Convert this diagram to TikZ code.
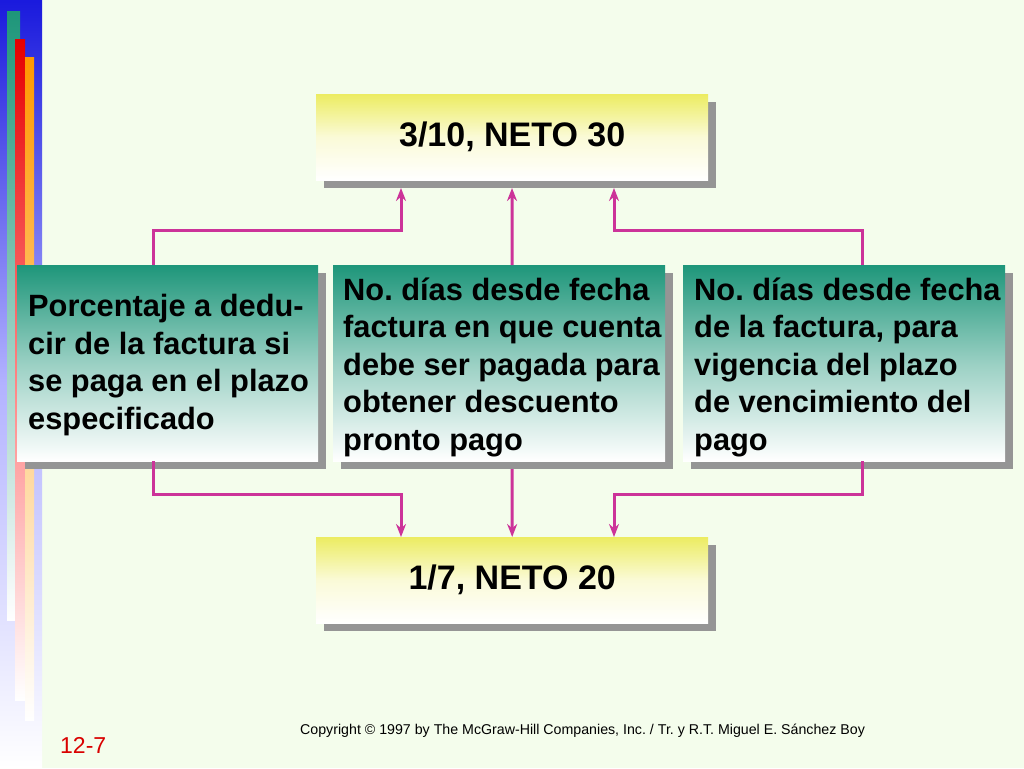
\documentclass[tikz,border=0pt]{standalone}
\usepackage{fontspec}
\setmainfont{Liberation Sans}
\frenchspacing
\usetikzlibrary{arrows.meta,shadows}
\definecolor{bg}{HTML}{F4FDEC}
\definecolor{teal}{HTML}{1E967A}
\definecolor{yel}{HTML}{ECEC62}
\definecolor{mag}{HTML}{CC3399}
\definecolor{shd}{HTML}{959595}
\begin{document}
\begin{tikzpicture}[x=1pt,y=-1pt,
  box/.style={draw=none,inner sep=0pt,anchor=north west,
    drop shadow={shadow xshift=8pt,shadow yshift=-8pt,fill=shd,opacity=1}},
  ybox/.style={box,top color=yel,bottom color=white,middle color=yel!25!white},
  gbox/.style={box,top color=teal,bottom color=white,middle color=teal!45!white},
  btxt/.style={font=\bfseries\fontsize{30.8}{37.5}\selectfont,align=left,anchor=west,inner sep=0pt},
  ttxt/.style={font=\bfseries\fontsize{34}{40}\selectfont,inner sep=0pt},
  conn/.style={draw=mag,line width=3pt,-{Stealth[length=13pt,width=10pt]}}]
\useasboundingbox (0,0) rectangle (1024,768);
\fill[bg] (0,0) rectangle (1024,768);
% left strip
\shade[top color=blue!85!black!90,bottom color=white,middle color=blue!30!white] (0,0) rectangle (42,768);
\shade[top color=teal,bottom color=white] (7,12) rectangle (20,620);
\shade[top color=red!90!black,bottom color=white,middle color=red!50!white] (15,40) rectangle (25,700);
\shade[top color=orange!80!yellow,bottom color=white] (25,58) rectangle (34,720);
% boxes
\node[ybox,minimum width=392pt,minimum height=86pt] (top) at (316,94) {};
\node[ttxt] (toptxt) at (top.center) {3/10, NETO 30};
\node[ybox,minimum width=392pt,minimum height=86pt] (bot) at (316,537) {};
\node[ttxt] (bottxt) at (bot.center) {1/7, NETO 20};
\node[gbox,minimum width=301pt,minimum height=196pt] (gl) at (17,265) {};
\node[gbox,minimum width=332pt,minimum height=196pt] (gm) at (333,265) {};
\node[gbox,minimum width=322pt,minimum height=196pt] (gr) at (683,265) {};
\node[btxt] (tl) at (28,365) {Porcentaje a dedu-\\cir de la factura si\\se paga en el plazo\\especificado};
\node[btxt] (tm) at (343,367) {No. días desde fecha\\factura en que cuenta\\debe ser pagada para\\obtener descuento\\pronto pago};
\node[btxt] (tr) at (694,367) {No. días desde fecha\\de la factura, para\\vigencia del plazo\\de vencimiento del\\pago};
% connectors up
\coordinate (ul) at (153,230);
\coordinate (ur) at (862,230);
\draw[conn] (gl.north -| ul) -- (ul) -| (401,188);
\draw[conn] (top.south |- gm.north) -- (512,188);
\draw[conn] (gr.north -| ur) -- (ur) -| (614,188);
% connectors down
\coordinate (dl) at (153,494);
\coordinate (dr) at (862,494);
\draw[conn] (153,461) -- (dl) -| (bot.north -| 401,0);
\draw[conn] (512,469) -- (bot.north);
\draw[conn] (862,461) -- (dr) -| (bot.north -| 614,0);
% footer
\node[font=\fontsize{14.2}{16}\selectfont,anchor=west,inner sep=0pt] (copy) at (300,731) {Copyright © 1997 by The McGraw-Hill Companies, Inc. / Tr. y R.T. Miguel E. Sánchez Boy};
\node[font=\fontsize{23}{25}\selectfont,text=red!85!black,anchor=west,inner sep=0pt] (num) at (60,745) {12-7};
\end{tikzpicture}
\end{document}
